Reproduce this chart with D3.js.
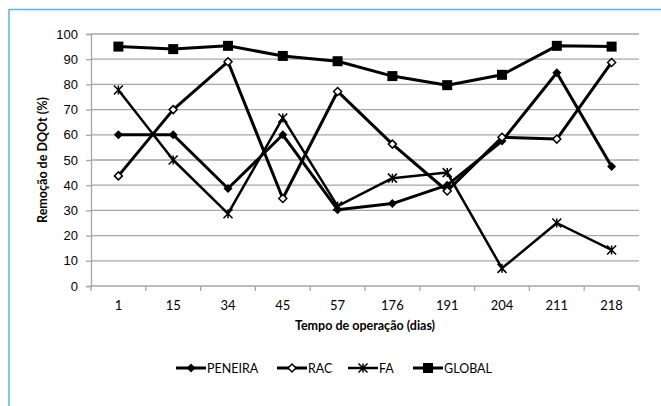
<!DOCTYPE html>
<html>
<head>
<meta charset="utf-8">
<script src="https://cdn.jsdelivr.net/npm/d3@7/dist/d3.min.js"></script>
<style>
  html, body { margin: 0; padding: 0; background: #fff; overflow: hidden; }
  svg { display: block; font-family: Lato, 'Open Sans', sans-serif; }
</style>
</head>
<body>
<div id="chart"></div>
<script>
// days of operation (categorical x axis)
const days = ['1', '15', '34', '45', '57', '176', '191', '204', '211', '218'];
// COD removal (%) per unit
const peneira = [60, 60, 38.7, 60, 30.3, 32.7, 40, 57.5, 84.6, 47.4];
const rac     = [43.7, 70, 89, 34.7, 77.2, 56.3, 37.7, 59, 58.3, 88.7];
const fa      = [77.8, 50, 28.7, 66.7, 31.7, 42.8, 45, 7, 25, 14.3];
const global  = [95, 94, 95.3, 91.3, 89.2, 83.3, 79.7, 83.8, 95.3, 95];
const yTicks  = [0, 10, 20, 30, 40, 50, 60, 70, 80, 90, 100];

const series = [
  { name: 'PENEIRA', values: peneira, marker: 'diamond', width: 3 },
  { name: 'RAC',     values: rac,     marker: 'odiamond', width: 3 },
  { name: 'FA',      values: fa,      marker: 'star', width: 2.5 },
  { name: 'GLOBAL',  values: global,  marker: 'square', width: 3 },
];

const W = 661, H = 406;
const margin = { top: 34, right: 22, bottom: 120, left: 91 };
const innerW = W - margin.left - margin.right;
const innerH = H - margin.top - margin.bottom;

const svg = d3.select('#chart').append('svg').attr('width', W).attr('height', H);

// frame: only left and top edges fall inside the picture
svg.append('path').attr('d', `M9,${H}L9,9.5L${W},9.5`)
  .attr('fill', 'none').attr('stroke', '#5bb5dc').attr('stroke-width', 1.5);

const g = svg.append('g').attr('transform', `translate(${margin.left},${margin.top})`);

const x = d3.scaleBand().domain(days).range([0, innerW]);
const y = d3.scaleLinear().domain([0, 100]).range([innerH, 0]);

// gridlines
g.selectAll('.gy').data(yTicks.filter(d => d > 0)).enter().append('line')
  .attr('x1', 0).attr('x2', innerW).attr('y1', d => y(d)).attr('y2', d => y(d))
  .attr('stroke', '#a6a6a6').attr('stroke-width', 1.3);

// y axis
const ya = g.append('g').call(d3.axisLeft(y).tickValues(yTicks).tickSize(5).tickPadding(8));
ya.selectAll('text').style('font-size', '13px').style('fill', '#000');
ya.selectAll('line, .domain').attr('stroke', '#a6a6a6').attr('stroke-width', 1.3);

// x axis: ticks at category boundaries
const xa = g.append('g').attr('transform', `translate(0,${innerH})`);
xa.append('line').attr('x1', 0).attr('x2', innerW).attr('stroke', '#a6a6a6').attr('stroke-width', 1.3);
const bounds = d3.range(days.length + 1).map(i => i * x.step());
xa.selectAll('.tk').data(bounds).enter().append('line')
  .attr('x1', d => d).attr('x2', d => d).attr('y1', 0).attr('y2', 5)
  .attr('stroke', '#a6a6a6').attr('stroke-width', 1.3);
xa.selectAll('.lb').data(days).enter().append('text')
  .attr('x', d => x(d) + x.bandwidth() / 2).attr('y', 24)
  .attr('text-anchor', 'middle').style('font-size', '13px').text(d => d);

// axis titles
svg.append('text').attr('x', margin.left + innerW / 2).attr('y', 330)
  .attr('text-anchor', 'middle').style('font-size', '12.5px').style('font-weight', 'bold')
  .text('Tempo de operação (dias)');
svg.append('text').attr('transform', `translate(47,${margin.top + innerH / 2}) rotate(-90)`)
  .attr('text-anchor', 'middle').style('font-size', '12.5px').style('font-weight', 'bold')
  .text('Remoção de DQOt (%)');

function drawMarker(sel, kind, cx, cy) {
  if (kind === 'diamond') {
    sel.append('path').attr('d', `M${cx},${cy - 4.5}L${cx + 4.5},${cy}L${cx},${cy + 4.5}L${cx - 4.5},${cy}Z`)
      .attr('fill', '#000');
  } else if (kind === 'odiamond') {
    sel.append('path').attr('d', `M${cx},${cy - 4}L${cx + 4},${cy}L${cx},${cy + 4}L${cx - 4},${cy}Z`)
      .attr('fill', '#fff').attr('stroke', '#000').attr('stroke-width', 1.5);
  } else if (kind === 'star') {
    const r = 4.5;
    sel.append('path').attr('d', `M${cx - r},${cy - r}L${cx + r},${cy + r}M${cx - r},${cy + r}L${cx + r},${cy - r}M${cx},${cy - r}L${cx},${cy + r}`)
      .attr('stroke', '#000').attr('stroke-width', 1.5).attr('fill', 'none');
  } else {
    sel.append('rect').attr('x', cx - 5).attr('y', cy - 5).attr('width', 10).attr('height', 10).attr('fill', '#000');
  }
}

const line = d3.line().x((d, i) => x(days[i]) + x.bandwidth() / 2).y(d => y(d));

series.forEach(s => {
  g.append('path').datum(s.values).attr('fill', 'none').attr('stroke', '#000')
    .attr('stroke-width', s.width).attr('stroke-linejoin', 'round').attr('d', line);
});
series.forEach(s => {
  const mg = g.append('g');
  s.values.forEach((v, i) => drawMarker(mg, s.marker, x(days[i]) + x.bandwidth() / 2, y(v)));
});

// legend
const legX = [176, 277, 348, 413];
series.forEach((s, i) => {
  const lg = svg.append('g').attr('transform', `translate(${legX[i]},368)`);
  lg.append('line').attr('x1', 0).attr('x2', 30).attr('y1', 0).attr('y2', 0)
    .attr('stroke', '#000').attr('stroke-width', s.width);
  drawMarker(lg, s.marker, 15, 0);
  lg.append('text').attr('x', 31).attr('y', 4.5).style('font-size', '12.5px').text(s.name);
});
</script>
</body>
</html>
